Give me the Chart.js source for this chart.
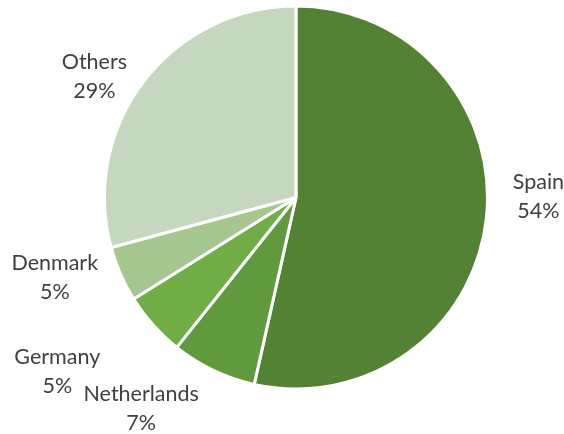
<!DOCTYPE html>
<html>
<head>
<meta charset="utf-8">
<script src="https://cdn.jsdelivr.net/npm/chart.js@4.4.1/dist/chart.umd.min.js"></script>
<style>
  html, body { margin: 0; padding: 0; background: #ffffff; }
  #wrap { width: 564px; height: 434px; position: relative; }
</style>
</head>
<body>
<div id="wrap"><canvas id="c" width="564" height="434"></canvas></div>
<script>
// ---- data ----
const categories = ["Spain", "Netherlands", "Germany", "Denmark", "Others"];
const shares = [53.5, 7.2, 5.4, 4.7, 29.2];
const sliceColors = ["#548235", "#619a3e", "#70ad47", "#a5c78f", "#c5d8bf"];

// label placement relative to each slice: [angle shift (deg), extra radius (px)]
const labelNudge = [[-4.8, 51], [9.8, 76], [4.6, 108], [3.7, 65], [-8.0, 40]];

const total = shares.reduce((a, b) => a + b, 0);

const outsideLabels = {
  id: 'outsideLabels',
  afterDatasetsDraw(chart) {
    const ctx = chart.ctx;
    const meta = chart.getDatasetMeta(0);
    ctx.save();
    ctx.font = '21.5px Lato, "Open Sans", sans-serif';
    ctx.fillStyle = '#404040';
    ctx.textAlign = 'center';
    ctx.textBaseline = 'alphabetic';
    meta.data.forEach((arc, i) => {
      const p = arc.getProps(['x', 'y', 'startAngle', 'endAngle', 'outerRadius'], true);
      const mid = (p.startAngle + p.endAngle) / 2 + labelNudge[i][0] * Math.PI / 180;
      const rr = p.outerRadius + labelNudge[i][1];
      const cx = p.x + Math.cos(mid) * rr;
      const cy = p.y + Math.sin(mid) * rr;
      const pct = Math.round(shares[i] / total * 100 + 1e-9) + '%';
      ctx.fillText(categories[i], cx, cy - 14.5);
      ctx.fillText(pct, cx, cy + 14.5);
    });
    ctx.restore();
  }
};

new Chart(document.getElementById('c'), {
  type: 'pie',
  data: {
    labels: categories,
    datasets: [{
      data: shares,
      backgroundColor: sliceColors,
      borderColor: '#ffffff',
      borderWidth: 3,
      radius: 191.5
    }]
  },
  options: {
    responsive: false,
    animation: false,
    events: [],
    layout: { padding: { left: 28, right: 0, top: 0, bottom: 39 } },
    plugins: {
      legend: { display: false },
      tooltip: { enabled: false },
      title: { display: false }
    }
  },
  plugins: [outsideLabels]
});
</script>
</body>
</html>
